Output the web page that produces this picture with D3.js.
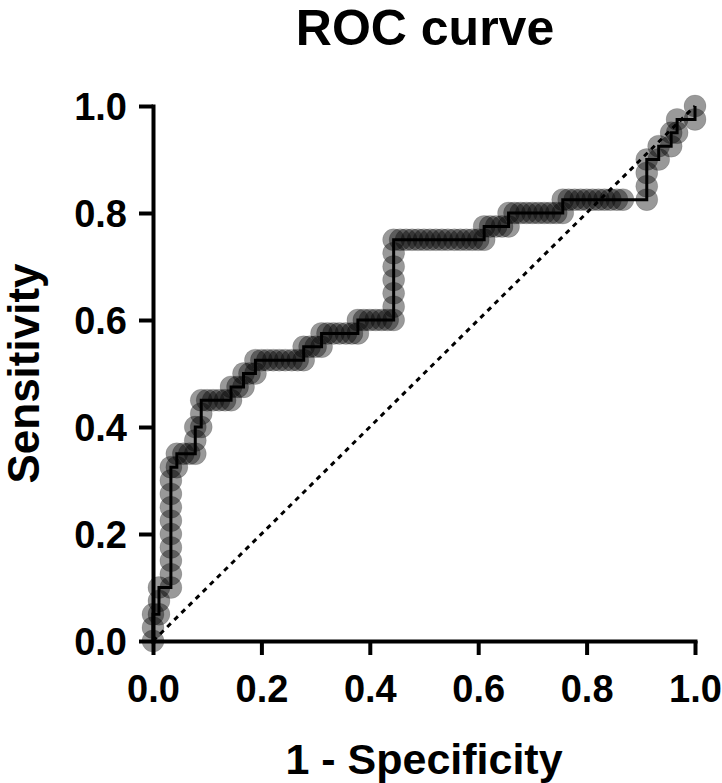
<!DOCTYPE html>
<html>
<head>
<meta charset="utf-8">
<script src="https://cdn.jsdelivr.net/npm/d3@7"></script>
<style>
  html, body { margin: 0; padding: 0; background: #fff; }
  svg { display: block; }
  text { font-family: "Liberation Sans", Arial, sans-serif; font-weight: bold; fill: #000; }
</style>
</head>
<body>
<svg id="chart" width="722" height="783"></svg>
<script>
// ---- data: ROC points (1 - specificity, sensitivity) ----
const fpr = [
  0, 0, 0,
  0.011, 0.011, 0.011,
  0.033, 0.033, 0.033, 0.033, 0.033, 0.033, 0.033, 0.033, 0.033, 0.033,
  0.044, 0.044,
  0.056, 0.067, 0.078,
  0.078, 0.078,
  0.089, 0.089, 0.089,
  0.1, 0.111, 0.122, 0.133, 0.144,
  0.144, 0.156, 0.167,
  0.167, 0.178, 0.189,
  0.189, 0.2, 0.211, 0.222, 0.233, 0.244, 0.256, 0.267, 0.278,
  0.278, 0.289, 0.3, 0.311,
  0.311, 0.322, 0.333, 0.344, 0.356, 0.367, 0.378,
  0.378, 0.389, 0.4, 0.411, 0.422, 0.433, 0.444,
  0.444, 0.444, 0.444, 0.444, 0.444, 0.444,
  0.456, 0.467, 0.478, 0.489, 0.5, 0.511, 0.522, 0.533, 0.544, 0.556, 0.567, 0.578, 0.589, 0.6, 0.611,
  0.611, 0.622, 0.633, 0.644, 0.656,
  0.656, 0.667, 0.678, 0.689, 0.7, 0.711, 0.722, 0.733, 0.744, 0.756,
  0.756, 0.767, 0.778, 0.789, 0.8, 0.811, 0.822, 0.833, 0.844, 0.856, 0.867, 0.911,
  0.911, 0.911, 0.911,
  0.933, 0.933, 0.956, 0.956, 0.967, 0.967, 1, 1
];
const tpr = [
  0, 0.025, 0.05,
  0.05, 0.075, 0.1,
  0.1, 0.125, 0.15, 0.175, 0.2, 0.225, 0.25, 0.275, 0.3, 0.325,
  0.325, 0.35,
  0.35, 0.35, 0.35,
  0.375, 0.4,
  0.4, 0.425, 0.45,
  0.45, 0.45, 0.45, 0.45, 0.45,
  0.475, 0.475, 0.475,
  0.5, 0.5, 0.5,
  0.525, 0.525, 0.525, 0.525, 0.525, 0.525, 0.525, 0.525, 0.525,
  0.55, 0.55, 0.55, 0.55,
  0.575, 0.575, 0.575, 0.575, 0.575, 0.575, 0.575,
  0.6, 0.6, 0.6, 0.6, 0.6, 0.6, 0.6,
  0.625, 0.65, 0.675, 0.7, 0.725, 0.75,
  0.75, 0.75, 0.75, 0.75, 0.75, 0.75, 0.75, 0.75, 0.75, 0.75, 0.75, 0.75, 0.75, 0.75, 0.75,
  0.775, 0.775, 0.775, 0.775, 0.775,
  0.8, 0.8, 0.8, 0.8, 0.8, 0.8, 0.8, 0.8, 0.8, 0.8,
  0.825, 0.825, 0.825, 0.825, 0.825, 0.825, 0.825, 0.825, 0.825, 0.825, 0.825, 0.825,
  0.85, 0.875, 0.9,
  0.9, 0.925, 0.925, 0.95, 0.95, 0.975, 0.975, 1
];
const referenceLine = [0, 1];           // chance line endpoints
const tickValues = [0, 0.2, 0.4, 0.6, 0.8, 1.0];
const titleText = "ROC curve";
const xLabel = "1 - Specificity";
const yLabel = "Sensitivity";

const points = fpr.map((f, i) => ({ x: f, y: tpr[i] }));

// ---- layout ----
const svg = d3.select("#chart");
const x = d3.scaleLinear().domain([0, 1]).range([153, 695]);
const y = d3.scaleLinear().domain([0, 1]).range([641, 106]);

// title
svg.append("text")
  .attr("x", 425).attr("y", 45)
  .attr("text-anchor", "middle")
  .style("font-size", "50px")
  .text(titleText);

// axes
const fmt = d3.format(".1f");
const xAxis = svg.append("g")
  .attr("transform", `translate(0,${y(0)})`)
  .call(d3.axisBottom(x).tickValues(tickValues).tickFormat(fmt).tickSize(14).tickSizeOuter(0).tickPadding(20));
const yAxis = svg.append("g")
  .attr("transform", `translate(${x(0)},0)`)
  .call(d3.axisLeft(y).tickValues(tickValues).tickFormat(fmt).tickSize(14).tickSizeOuter(0).tickPadding(12));

[xAxis, yAxis].forEach(g => {
  g.select(".domain").attr("stroke", "#000").attr("stroke-width", 4).attr("stroke-linecap", "square");
  g.selectAll(".tick line").attr("stroke", "#000").attr("stroke-width", 4);
  g.selectAll(".tick text")
    .style("font-family", '"Liberation Sans", Arial, sans-serif')
    .style("font-weight", "bold")
    .style("font-size", "38px")
    .attr("fill", "#000");
});
xAxis.selectAll(".tick text").attr("dy", "0.72em");
yAxis.selectAll(".tick text").attr("dy", "0.36em");

// axis titles
svg.append("text")
  .attr("x", 424).attr("y", 774)
  .attr("text-anchor", "middle")
  .style("font-size", "43px")
  .text(xLabel);
svg.append("text")
  .attr("transform", `translate(39,${(y(0) + y(1)) / 2}) rotate(-90)`)
  .attr("text-anchor", "middle")
  .style("font-size", "44px")
  .text(yLabel);

// chance diagonal
svg.append("line")
  .attr("x1", x(referenceLine[0])).attr("y1", y(referenceLine[0]))
  .attr("x2", x(referenceLine[1])).attr("y2", y(referenceLine[1]))
  .attr("stroke", "#000").attr("stroke-width", 3)
  .attr("stroke-dasharray", "5,5");

// points
svg.append("g").selectAll("circle")
  .data(points).join("circle")
  .attr("cx", d => x(d.x)).attr("cy", d => y(d.y))
  .attr("r", 11)
  .attr("fill", "#000").attr("fill-opacity", 0.4)
  .attr("stroke", "#000").attr("stroke-opacity", 0.12).attr("stroke-width", 1);

// ROC line
svg.append("path")
  .datum(points)
  .attr("fill", "none").attr("stroke", "#000").attr("stroke-width", 3)
  .attr("d", d3.line().x(d => x(d.x)).y(d => y(d.y)));
</script>
</body>
</html>
